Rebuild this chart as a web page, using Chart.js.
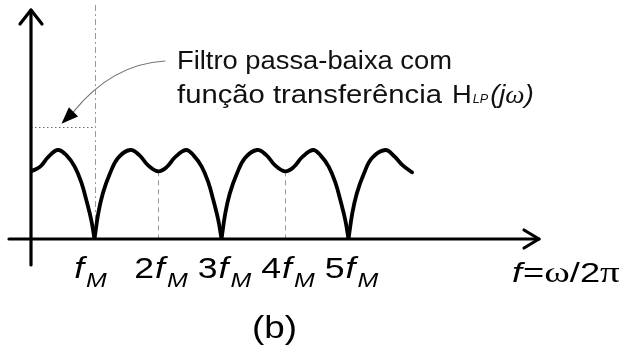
<!DOCTYPE html>
<html><head><meta charset="utf-8">
<script src="https://cdn.jsdelivr.net/npm/chart.js@4/dist/chart.umd.min.js"></script>
<style>html,body{margin:0;padding:0;background:#fff}#wrap{width:625px;height:351px;position:relative}</style>
</head><body><div id="wrap"><canvas id="c"></canvas></div>
<script>
// frequency in units of fM, magnitude relative to the peak
const freqFM = [
  0, 0.14, 0.27, 0.42, 0.56, 0.69, 0.80, 0.87, 0.95, 1.00,
  1.06, 1.13, 1.24, 1.37, 1.56, 1.71, 1.84, 2.00,
  2.14, 2.27, 2.44, 2.56, 2.69, 2.80, 2.87, 2.95, 3.00,
  3.06, 3.13, 3.24, 3.37, 3.56, 3.71, 3.84, 4.00,
  4.14, 4.27, 4.44, 4.56, 4.69, 4.80, 4.87, 4.95, 5.00,
  5.06, 5.13, 5.24, 5.37, 5.58, 5.72, 5.85, 6.00
];
const magnitude = [
  0.76, 0.81, 0.92, 1.00, 0.94, 0.81, 0.62, 0.44, 0.21, 0,
  0.29, 0.51, 0.73, 0.91, 1.00, 0.94, 0.83, 0.76,
  0.81, 0.92, 1.00, 0.94, 0.81, 0.62, 0.44, 0.21, 0,
  0.29, 0.51, 0.73, 0.91, 1.00, 0.94, 0.83, 0.76,
  0.81, 0.92, 1.00, 0.94, 0.81, 0.62, 0.44, 0.21, 0,
  0.29, 0.51, 0.73, 0.91, 1.00, 0.93, 0.83, 0.75
];
const tickValues = [1, 2, 3, 4, 5];
const tickPrefixes = ['', '2', '3', '4', '5'];
const troughGuides = [2, 4];
const troughLevel = 0.76;
const filterCutoff = 1;
const filterGain = 1.26;
const annotationLine1 = 'Filtro passa-baixa com';
const annotationLine2 = 'função transferência';
const caption = '(b)';

// split the curve at its zeros so each cusp stays sharp
const segments = [];
let cur = [];
freqFM.forEach((f, i) => {
  const p = {x: f, y: magnitude[i]};
  cur.push(p);
  if (magnitude[i] === 0 && cur.length > 1) { segments.push(cur); cur = [p]; }
});
if (cur.length > 1) segments.push(cur);

const SANS = '"Liberation Sans", Arial, sans-serif';
const SERIF = '"Liberation Serif", "Times New Roman", serif';

function drawRuns(ctx, runs, x, y, k) {
  let cx = x;
  runs.forEach(r => {
    ctx.font = r.font;
    const w = ctx.measureText(r.t).width * k;
    ctx.save();
    ctx.translate(cx, y + (r.dy || 0));
    ctx.scale(k, 1);
    ctx.fillText(r.t, 0, 0);
    ctx.restore();
    cx += w + (r.gap || 0);
  });
  return cx;
}
function runsWidth(ctx, runs, k) {
  let w = 0;
  runs.forEach(r => { ctx.font = r.font; w += ctx.measureText(r.t).width * k + (r.gap || 0); });
  return w;
}

const guides = {
  id: 'guides',
  beforeDatasetsDraw(chart) {
    const {ctx, scales: {x, y}} = chart;
    ctx.save();
    ctx.lineWidth = 1;
    ctx.strokeStyle = '#9a9a9a';
    ctx.setLineDash([6, 3, 2, 3]);
    ctx.beginPath();
    const cx = Math.round(x.getPixelForValue(filterCutoff)) + 0.5;
    ctx.moveTo(cx, 5);
    ctx.lineTo(cx, y.getPixelForValue(0));
    ctx.stroke();
    ctx.strokeStyle = '#666';
    ctx.setLineDash([1.5, 2.5]);
    ctx.beginPath();
    const gy = Math.round(y.getPixelForValue(filterGain)) + 0.5;
    ctx.moveTo(x.getPixelForValue(0), gy);
    ctx.lineTo(x.getPixelForValue(filterCutoff), gy);
    ctx.stroke();
    ctx.strokeStyle = '#999';
    ctx.setLineDash([5, 4]);
    troughGuides.forEach(v => {
      const px = Math.round(x.getPixelForValue(v)) + 0.5;
      ctx.beginPath();
      ctx.moveTo(px, y.getPixelForValue(troughLevel));
      ctx.lineTo(px, y.getPixelForValue(0));
      ctx.stroke();
    });
    ctx.restore();
  }
};

const decor = {
  id: 'decor',
  afterDraw(chart) {
    const {ctx, scales: {x, y}, chartArea} = chart;
    const x0 = x.getPixelForValue(0), y0 = y.getPixelForValue(0);
    ctx.save();
    ctx.strokeStyle = '#000';
    ctx.fillStyle = '#000';
    ctx.lineWidth = 3.2;
    ctx.lineCap = 'round';
    ctx.lineJoin = 'round';
    const xr = chartArea.right;
    ctx.beginPath(); ctx.moveTo(x0 - 22, y0); ctx.lineTo(xr, y0); ctx.stroke();
    ctx.beginPath(); ctx.moveTo(xr - 15, y0 - 9); ctx.lineTo(xr, y0); ctx.lineTo(xr - 15, y0 + 9); ctx.stroke();
    const yt = chartArea.top;
    ctx.beginPath(); ctx.moveTo(x0, y0 + 26); ctx.lineTo(x0, yt); ctx.stroke();
    ctx.beginPath(); ctx.moveTo(x0 - 11, yt + 14); ctx.lineTo(x0, yt); ctx.lineTo(x0 + 11, yt + 14); ctx.stroke();

    // annotation arrow
    const tipX = x.getPixelForValue(0.48), tipY = y.getPixelForValue(filterGain) - 3;
    const baseX = tipX + 11.5, baseY = tipY - 11.5;
    ctx.strokeStyle = '#777';
    ctx.lineWidth = 1.2;
    ctx.beginPath(); ctx.moveTo(165, 61); ctx.quadraticCurveTo(112, 64, baseX, baseY); ctx.stroke();
    ctx.beginPath();
    const ang = Math.atan2(tipY - baseY, tipX - baseX);
    const L = 17, H = 6.5;
    const bx = tipX - L * Math.cos(ang), by = tipY - L * Math.sin(ang);
    ctx.moveTo(tipX, tipY);
    ctx.lineTo(bx + H * Math.sin(ang), by - H * Math.cos(ang));
    ctx.lineTo(bx - H * Math.sin(ang), by + H * Math.cos(ang));
    ctx.closePath();
    ctx.fillStyle = '#000';
    ctx.fill();

    // annotation text
    ctx.fillStyle = '#111';
    ctx.textBaseline = 'alphabetic';
    ctx.textAlign = 'left';
    const af = '26px ' + SANS;
    ctx.font = af;
    const k1 = 275 / ctx.measureText(annotationLine1).width;
    drawRuns(ctx, [{t: annotationLine1, font: af}], 177, 69, k1);
    ctx.font = af;
    const k2 = (452 - 177 - 10) / ctx.measureText(annotationLine2).width;
    const hx = drawRuns(ctx, [{t: annotationLine2, font: af, gap: 10}], 177, 103, k2);
    drawRuns(ctx, [
      {t: 'H', font: af, gap: 1},
      {t: 'LP', font: 'italic 12px ' + SANS, gap: 2},
      {t: '(', font: 'italic 26px ' + SANS},
      {t: 'j', font: 'italic 26px ' + SANS},
      {t: 'ω', font: 'italic 26px ' + SERIF},
      {t: ')', font: 'italic 26px ' + SANS}
    ], hx, 103, k1);

    // tick labels
    ctx.fillStyle = '#000';
    const sample = [{t: '2', font: '30px ' + SANS, gap: 1}, {t: 'f', font: 'italic 30px ' + SANS, gap: 2}, {t: 'M', font: 'italic 21px ' + SANS}];
    const kt = 54 / runsWidth(ctx, sample, 1);
    tickValues.forEach((v, i) => {
      const runs = [];
      if (tickPrefixes[i]) runs.push({t: tickPrefixes[i], font: '30px ' + SANS, gap: 1});
      runs.push({t: 'f', font: 'italic 30px ' + SANS, gap: 2});
      runs.push({t: 'M', font: 'italic 21px ' + SANS, dy: 9});
      const w = runsWidth(ctx, runs, kt);
      const c = x.getPixelForValue(v) + (tickPrefixes[i] ? 3 : -4);
      drawRuns(ctx, runs, c - w / 2, 278, kt);
    });

    // axis title
    const title = [
      {t: 'f', font: 'italic 27px ' + SANS, gap: 1},
      {t: '=', font: '27px ' + SANS},
      {t: 'ω', font: '29px ' + SERIF},
      {t: '/2', font: '27px ' + SANS},
      {t: 'π', font: '29px ' + SERIF}
    ];
    const ka = 108 / runsWidth(ctx, title, 1);
    drawRuns(ctx, title, 512, 282, ka);

    // caption
    ctx.font = '32px ' + SANS;
    const kc = 45 / ctx.measureText(caption).width;
    drawRuns(ctx, [{t: caption, font: '32px ' + SANS}], 252, 338, kc);
    ctx.restore();
  }
};

new Chart(document.getElementById('c'), {
  type: 'line',
  data: {
    datasets: segments.map(seg => ({
      data: seg,
      borderColor: '#000',
      borderWidth: 3.8,
      pointRadius: 0,
      tension: 0.4,
      fill: false,
      borderCapStyle: 'round',
      borderJoinStyle: 'round'
    }))
  },
  options: {
    responsive: true,
    maintainAspectRatio: false,
    animation: false,
    devicePixelRatio: 1,
    events: [],
    layout: {padding: {left: 31, right: 86, top: 10, bottom: 112}},
    scales: {
      x: {type: 'linear', min: 0, max: 8, display: false},
      y: {min: 0, max: 2.573, display: false}
    },
    plugins: {legend: {display: false}, tooltip: {enabled: false}}
  },
  plugins: [guides, decor]
});
</script>
</body></html>
